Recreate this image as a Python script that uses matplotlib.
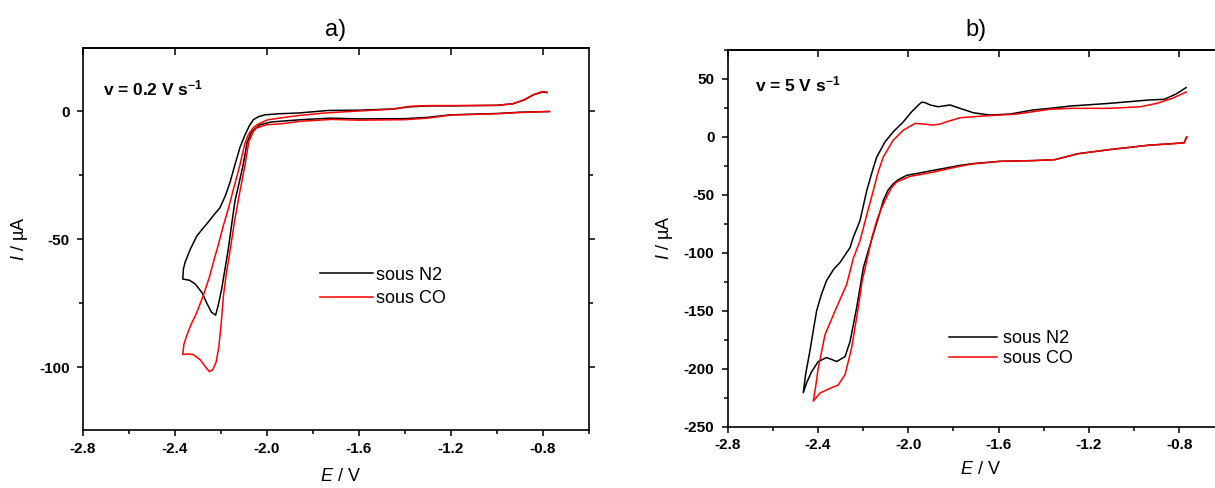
import matplotlib
matplotlib.use("Agg")
import matplotlib.pyplot as plt
from matplotlib.ticker import MultipleLocator

plt.rcParams["font.family"] = ["Liberation Sans", "DejaVu Sans"]
plt.rcParams["mathtext.fontset"] = "custom"
plt.rcParams["mathtext.rm"] = "Liberation Sans"
plt.rcParams["mathtext.it"] = "Liberation Sans:italic"
plt.rcParams["mathtext.bf"] = "Liberation Sans:bold"
plt.rcParams["axes.unicode_minus"] = False

# --- panel a) v = 0.2 V/s : cathodic scan from -0.77 V, then back ---
E_a_n2 = [-0.77, -0.9, -1.0, -1.2, -1.3, -1.4, -1.6, -1.72, -1.85, -1.98, -2.029, -2.065,
          -2.085, -2.102, -2.12, -2.138, -2.152, -2.167, -2.182, -2.196, -2.21, -2.222,
          -2.24, -2.26, -2.28, -2.31, -2.335, -2.365,
          -2.362, -2.355, -2.333, -2.304, -2.28, -2.261, -2.23, -2.203, -2.18, -2.16,
          -2.138, -2.116, -2.094, -2.075, -2.058, -2.035, -2.007, -1.95, -1.863, -1.732,
          -1.6, -1.45, -1.38, -1.3, -1.2, -1.0, -0.93, -0.88, -0.84, -0.80, -0.78]
I_a_n2 = [0.0, -0.3, -0.8, -1.3, -2.3, -2.8, -2.9, -2.6, -3.2, -4.1, -5.2, -7.8,
          -12.0, -20.8, -28.0, -35.0, -44.0, -53.9, -62.0, -69.5, -75.5, -79.6,
          -78.5, -75.0, -71.0, -67.5, -66.0, -65.5,
          -61.5, -59.0, -54.0, -48.7, -46.0, -44.0, -40.5, -37.6, -33.0, -27.9,
          -20.8, -14.0, -9.1, -5.5, -3.2, -2.0, -1.3, -0.9, -0.6, 0.4,
          0.5, 1.0, 1.8, 2.2, 2.2, 2.4, 3.0, 4.5, 6.5, 7.6, 7.4]

E_a_co = [-0.77, -0.9, -1.0, -1.2, -1.3, -1.4, -1.6, -1.717, -1.85, -1.935, -2.0, -2.022,
          -2.045, -2.058, -2.078, -2.094, -2.12, -2.14, -2.16, -2.175, -2.188, -2.198,
          -2.208, -2.22, -2.235, -2.249, -2.265, -2.29, -2.32, -2.345, -2.365,
          -2.36, -2.348, -2.33, -2.304, -2.276, -2.25, -2.232, -2.21, -2.189, -2.165,
          -2.145, -2.116, -2.095, -2.08, -2.06, -2.043, -2.015, -1.993, -1.93, -1.863,
          -1.75, -1.6, -1.45, -1.38, -1.3, -1.2, -1.0, -0.93, -0.88, -0.84, -0.80, -0.78]
I_a_co = [0.0, -0.4, -0.9, -1.4, -2.6, -3.2, -3.4, -3.1, -3.8, -4.8, -5.2, -5.8,
          -6.5, -7.8, -12.0, -20.8, -33.0, -43.0, -55.0, -63.0, -72.0, -83.0,
          -92.0, -98.0, -101.0, -101.7, -100.0, -97.0, -95.0, -94.8, -95.0,
          -91.0, -87.7, -83.5, -78.6, -72.0, -65.0, -59.0, -52.0, -44.8, -37.5,
          -30.5, -20.8, -12.5, -9.1, -6.5, -5.2, -4.0, -3.2, -2.4, -1.6,
          -0.6, 0.2, 0.9, 2.0, 2.3, 2.3, 2.4, 3.0, 4.6, 6.6, 7.8, 7.5]

# --- panel b) v = 5 V/s ---
E_b_n2 = [-0.767, -0.779, -0.935, -1.109, -1.247, -1.352, -1.45, -1.594, -1.716, -1.771,
          -1.889, -1.96, -2.007, -2.045, -2.067, -2.09, -2.111, -2.13, -2.155, -2.18,
          -2.199, -2.229, -2.258, -2.28, -2.317, -2.34, -2.362, -2.399, -2.428, -2.45,
          -2.465,
          -2.455, -2.436, -2.42, -2.406, -2.385, -2.362, -2.33, -2.303, -2.258, -2.244,
          -2.214, -2.184, -2.16, -2.14, -2.103, -2.067, -2.022, -1.985, -1.955, -1.941,
          -1.925, -1.904, -1.867, -1.84, -1.815, -1.771, -1.712, -1.638, -1.55, -1.447,
          -1.373, -1.282, -1.109, -0.935, -0.866, -0.814, -0.77]
I_b_n2 = [0.0, -5.2, -7.2, -11.0, -14.5, -19.7, -20.5, -21.1, -23.1, -24.6,
          -28.9, -31.5, -33.2, -37.0, -40.5, -46.0, -55.0, -68.0, -83.9, -100.0,
          -112.8, -147.6, -176.5, -189.5, -193.8, -192.0, -190.4, -193.8, -202.5, -212.0,
          -220.7,
          -205.0, -185.0, -166.0, -150.0, -136.0, -124.0, -114.0, -108.5, -95.5, -86.8,
          -72.3, -46.3, -30.0, -17.4, -4.3, 4.3, 13.0, 21.7, 27.5, 29.9,
          29.5, 27.5, 26.0, 26.8, 27.5, 24.6, 20.8, 18.8, 19.7, 23.2,
          24.6, 26.6, 28.9, 31.8, 32.4, 37.0, 42.5]

E_b_co = [-0.767, -0.779, -0.935, -1.109, -1.247, -1.352, -1.45, -1.594, -1.716, -1.771,
          -1.889, -1.993, -2.052, -2.075, -2.096, -2.12, -2.14, -2.16, -2.184, -2.205,
          -2.222, -2.251, -2.28, -2.31, -2.347, -2.391, -2.421,
          -2.41, -2.399, -2.369, -2.325, -2.273, -2.244, -2.214, -2.185, -2.155, -2.133,
          -2.111, -2.067, -2.022, -1.97, -1.93, -1.889, -1.86, -1.83, -1.771, -1.668,
          -1.52, -1.373, -1.282, -1.109, -0.97, -0.9, -0.831, -0.77]
I_b_co = [0.0, -5.2, -7.2, -11.0, -14.5, -19.7, -20.5, -21.1, -23.4, -25.3,
          -30.4, -34.1, -39.0, -44.0, -52.0, -62.0, -72.3, -86.0, -107.0, -125.0,
          -147.6, -182.0, -205.0, -214.0, -217.0, -221.0, -228.0,
          -215.0, -199.6, -170.7, -150.4, -127.3, -105.0, -89.7, -68.0, -46.3, -30.0,
          -17.4, -2.9, 5.8, 11.6, 11.0, 10.2, 11.0, 13.0, 16.5, 18.0,
          19.7, 23.8, 24.6, 24.6, 26.0, 28.9, 33.2, 38.7]

labels = ["sous N2", "sous CO"]
colors = ["black", "#ff0000"]

fig = plt.figure(figsize=(12.15, 4.88), dpi=100)
ax_a = fig.add_axes([0.0681, 0.119, 0.4163, 0.782])
ax_b = fig.add_axes([0.5989, 0.1257, 0.4089, 0.772])


def style_axes(ax, ylim, ymajor, yminor):
    ax.set_xlim(-2.8, -0.6)
    ax.set_ylim(*ylim)
    ax.xaxis.set_major_locator(MultipleLocator(0.4))
    ax.xaxis.set_minor_locator(MultipleLocator(0.2))
    ax.yaxis.set_major_locator(MultipleLocator(ymajor))
    ax.yaxis.set_minor_locator(MultipleLocator(yminor))
    ax.tick_params(which="both", direction="out", width=1.1, top=False, right=True)
    ax.tick_params(which="major", length=4.5)
    ax.tick_params(which="minor", length=2.7)
    ax.tick_params(axis="x", pad=4)
    ax.tick_params(axis="y", pad=5)
    for lab in ax.get_xticklabels() + ax.get_yticklabels():
        lab.set_fontweight("bold")
        lab.set_fontsize(11)
    for sp in ax.spines.values():
        sp.set_linewidth(1.2)
    # top axis carries inward major ticks only
    sec = ax.secondary_xaxis("top")
    sec.xaxis.set_major_locator(MultipleLocator(0.4))
    sec.tick_params(direction="in", length=5, width=1.1, labeltop=False)
    sec.spines["top"].set_linewidth(1.2)


style_axes(ax_a, (-124.5, 24.7), 50, 25)
style_axes(ax_b, (-250, 75), 50, 25)

for ax, E1, I1, E2, I2 in [(ax_a, E_a_n2, I_a_n2, E_a_co, I_a_co),
                           (ax_b, E_b_n2, I_b_n2, E_b_co, I_b_co)]:
    ax.plot(E1, I1, color=colors[0], lw=1.1, label=labels[0])
    ax.plot(E2, I2, color=colors[1], lw=1.1, label=labels[1])

ax_a.set_title("a)", fontsize=17, pad=9)
ax_b.set_title("b)", fontsize=17, pad=10)

for ax, xl, yl in [(ax_a, (0.509, -0.1), (-0.104, 0.5)),
                   (ax_b, (0.508, -0.091), (-0.107, 0.5))]:
    ax.set_xlabel("$\\mathit{E}$ / V", fontsize=13)
    ax.set_ylabel("$\\mathit{I}$ / µA", fontsize=13)
    ax.xaxis.set_label_coords(*xl)
    ax.yaxis.set_label_coords(*yl)

ax_a.text(0.041, 0.895, "v = 0.2 V s$^{\\mathbf{-1}}$", transform=ax_a.transAxes,
          fontsize=12.5, fontweight="bold", va="center", ha="left")
ax_b.text(0.056, 0.908, "v = 5 V s$^{\\mathbf{-1}}$", transform=ax_b.transAxes,
          fontsize=12.5, fontweight="bold", va="center", ha="left")

ax_a.legend(loc="upper left", bbox_to_anchor=(0.47, 0.428), frameon=False,
            fontsize=13, handlelength=2.9, handletextpad=0.2, labelspacing=0.38,
            borderpad=0, borderaxespad=0)
ax_b.legend(loc="upper left", bbox_to_anchor=(0.445, 0.257), frameon=False,
            fontsize=13, handlelength=2.7, handletextpad=0.3, labelspacing=0.2,
            borderpad=0, borderaxespad=0)

fig.savefig("out.png", dpi=100)
